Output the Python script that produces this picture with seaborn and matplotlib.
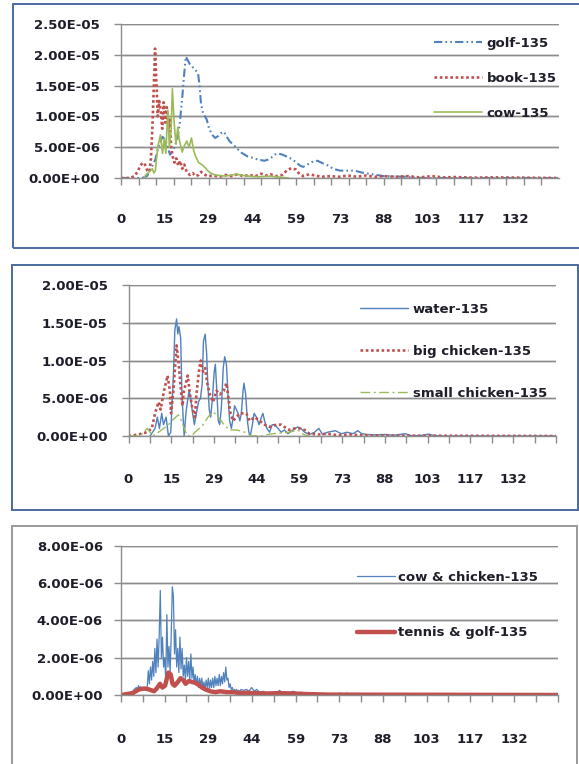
import matplotlib
matplotlib.use("Agg")
import matplotlib.pyplot as plt
import numpy as np
import seaborn as sns
from matplotlib.patches import Rectangle
from matplotlib.lines import Line2D
from matplotlib.ticker import FixedLocator, FuncFormatter, MultipleLocator

# all series values are in units of 1e-6
SCALE = 1e-6
X_MAX = 146.67
CAT_STEP = 0.3667
X_LABEL_POS = [0, 14.67, 29.33, 44, 58.67, 73.33, 88, 102.67, 117.33, 132]
X_LABELS = ["0", "15", "29", "44", "59", "73", "88", "103", "117", "132"]

# ---- panel 1
GOLF_X = [0, 7, 8.7, 10, 11.5, 12.5, 13.9, 15, 16.4, 17.5, 18.8, 19.7, 20.5, 21, 21.7, 22.5,
          23, 24, 25, 25.8, 26.3, 26.8, 27.5, 28.7, 29.5, 30.6, 31.5, 32.5, 33.5, 34.5, 35.3,
          36.3, 37.4, 38.5, 40, 42.4, 44, 45.8, 48, 49.3, 50.3, 51.5, 52.5, 54, 55.9, 57.5,
          58.7, 60, 61, 62.5, 64, 65.8, 67.5, 69.5, 71, 73.3, 76, 78.2, 80.5, 83, 85.5, 88,
          92, 95.5, 98, 102, 146.67]
GOLF_Y = [0, 0, 0.3, 1.5, 3, 5, 6.7, 6, 3.8, 4.5, 6.2, 9, 13, 16, 19.7, 19,
          18.5, 18, 17.5, 17, 15, 12, 10.5, 9.5, 8, 7, 6.5, 6.8, 7.3, 7.5, 6.8,
          6, 5.5, 5, 4.2, 3.5, 3.3, 3, 2.8, 3, 3.3, 3.8, 4, 3.8, 3.4, 3,
          2.5, 2, 1.8, 2.2, 2.6, 2.8, 2.4, 2, 1.5, 1.2, 1.2, 1.2, 0.9, 0.7, 0.5, 0.3,
          0.25, 0.2, 0.05, 0, 0]

BOOK_X = [0, 3, 4.5, 5.5, 6.5, 7.3, 8, 8.8, 9.5, 10, 10.5, 11, 11.4, 11.9, 12.3, 12.8, 13.3,
          13.8, 14.3, 14.8, 15.3, 15.8, 16.3, 16.8, 17.3, 17.9, 18.5, 19.2, 19.8, 20.5, 21.2,
          22, 23, 24, 25, 26, 26.8, 27.8, 29, 31, 33, 35, 37, 39, 41, 43, 45, 47, 48.5, 50,
          52, 54, 55.5, 57, 58.5, 59.5, 61, 63, 65, 67, 70, 73, 76, 79, 82, 85, 88, 92, 96,
          100, 104, 108, 112, 118, 125, 146.67]
BOOK_Y = [0, 0, 0.3, 1, 2, 2.5, 2.2, 1.2, 1, 3, 8, 15, 21, 15, 10, 12.5, 11,
          8, 12.3, 9, 11.5, 8, 9.5, 5, 3.5, 2.5, 3.2, 2, 2.8, 1.5, 2.2,
          1.0, 0.5, 0.8, 0.3, 0.5, 1.0, 0.6, 0.3, 0.4, 0.2, 0.5, 0.3, 0.6, 0.3, 0.5, 0.3, 0.7, 0.4, 0.6,
          0.3, 0.5, 1.2, 1.6, 1.4, 0.8, 0.3, 0.6, 0.4, 0.2, 0.3, 0.2, 0.4, 0.2, 0.4, 0.2, 0.3, 0.2, 0.3,
          0.1, 0.3, 0.1, 0.15, 0.05, 0.1, 0]

COW_X = [7.6, 8.5, 9.5, 10.5, 11, 11.5, 12.3, 13.2, 13.9, 14.5, 15, 15.7, 16.2, 16.8, 17.2, 17.8,
         18.4, 19, 19.6, 20.5, 21, 22, 22.8, 23.6, 24.3, 25, 26, 27, 28, 29, 30, 31.5, 33, 35,
         37, 39, 41, 43, 46, 50, 54, 56]
COW_Y = [0, 0.6, 1.0, 1.5, 0.8, 1.2, 5, 7, 4, 6.5, 4, 11, 5, 8, 14.5, 9,
         5.5, 8.2, 6, 4.2, 5, 6, 5, 6.5, 4.5, 3.5, 2.5, 2.2, 1.8, 1.2, 0.8, 0.5, 0.4, 0.3,
         0.5, 0.6, 0.4, 0.3, 0.2, 0.3, 0.1, 0]

# ---- panel 2
WATER_X = [7.4, 9.1, 9.9, 10.6, 11.4, 12, 12.9, 13.7, 14.5, 15.4, 15.9, 16.5, 16.9, 17.3, 17.9,
           18.3, 18.8, 19.1, 19.7, 20.2, 20.8, 21.3, 22, 22.6, 23.3, 24, 24.7, 25.3, 25.7, 26.3,
           26.8, 27.2, 27.7, 28.2, 28.8, 29.4, 29.8, 30.3, 30.8, 31.3, 31.9, 32.5, 33, 33.6, 34.2,
           34.7, 35.3, 35.9, 36.4, 37, 37.6, 38.2, 38.7, 39.3, 39.6, 40.2, 40.8, 41.3, 41.8, 42.5,
           43.1, 43.9, 44.8, 45.6, 46.1, 46.7, 47.5, 48.4, 49.3, 50.1, 51.3, 52.4, 53.5, 54.7,
           56.4, 58.1, 59.2, 60.4, 62.1, 63.8, 65.3, 66.6, 68.3, 71, 73, 75, 77, 78.7, 80, 82,
           85, 88, 91, 95, 97, 100, 103, 105, 108, 146.67]
WATER_Y = [0, 1, 2.5, 1, 3, 1.5, 2.5, 0, 0.5, 8, 14, 15.5, 13.5, 14.5, 13,
           6, 2, 0, 3, 4.5, 6, 5, 3, 1.5, 3, 4.5, 5, 7, 12.5, 13.5,
           11, 7, 3.5, 2.5, 5, 8.5, 9.5, 6, 2, 1.5, 4, 9, 10.5, 9.5, 5,
           2, 1, 2.5, 4, 3.5, 3, 2, 3, 6, 7, 5.5, 2, 0.5, 0, 1.5,
           3, 2.5, 1.5, 2.5, 3, 2, 1, 0.5, 1.5, 1.5, 1, 0.5, 0.8, 0.3,
           0.8, 1.2, 1, 0.5, 0.2, 0.5, 1, 0.2, 0.5, 0.7, 0.3, 0.5, 0.3, 0.7, 0.3, 0.2,
           0.15, 0.2, 0.1, 0.3, 0.05, 0.05, 0.25, 0.05, 0, 0]

BIG_X = [0, 3.4, 6.3, 8, 9.1, 10.3, 11, 12.2, 13.4, 14.2, 14.6, 15.4, 16.5, 17.1, 17.9, 18.5,
         19, 19.7, 20.3, 21.1, 22, 22.8, 23.3, 24.3, 24.8, 25.6, 26.3, 27, 27.9, 29, 30.2, 31.3,
         32.7, 33.6, 34.3, 35, 35.9, 37, 38.2, 40.4, 41.6, 43.3, 45, 46.7, 48.4, 50.7, 52.4,
         53.5, 55.2, 56.9, 58.7, 60.4, 62.1, 65, 68, 72, 76, 80, 90, 146.67]
BIG_Y = [0, 0.2, 0.5, 1, 3, 4.5, 3.5, 6, 8, 6, 3, 6, 12, 10, 6.5, 4,
         6, 7, 8, 5.5, 3.5, 2.5, 5.5, 9, 10, 8.5, 9, 7, 5.5, 4.5, 6, 5.5,
         6, 7, 5, 3, 2, 2.5, 3, 3, 2, 2.5, 2, 1.5, 1.2, 1.5, 1.5,
         1.2, 0.8, 1, 1, 0.8, 0.3, 0.2, 0.3, 0.1, 0.2, 0.1, 0.05, 0]

SMALL_X = [0, 4, 5.1, 6.5, 7.4, 8.3, 10.3, 12, 13.7, 14.8, 17.1, 18.2, 19.1, 20.2, 21.6, 22.8,
           24.3, 25.6, 27.3, 28.8, 29.6, 30.8, 31.9, 32.7, 34.7, 37, 38.2, 39.9, 41, 42.1, 46.1,
           47.8, 49.5, 55.2, 58.1, 60, 62]
SMALL_Y = [0, 0, 0.5, 1, 0.5, 0, 0.5, 1, 1.5, 2, 2.8, 2, 1, 0, 0, 0.5,
           1, 1.5, 2.5, 3.2, 3, 2.5, 2, 1.5, 0.8, 0.8, 0.7, 0.5, 0.3, 0, 0,
           0.2, 0.3, 0.5, 0.8, 0.2, 0]

# ---- panel 3
# cow & chicken: one value per category from category 0 to 110, then a sparse tail
CC_HEAD_Y = [0, 0, 0, 0, 0.03, 0.03, 0.05, 0.03, 0.05, 0.1, 0.2, 0.15, 0.3, 0.35, 0.4, 0.3,
             0.5, 0.35, 0.45, 0.3, 0.4, 0.25, 0.35, 0.3,
             0.4, 1.3, 0.6, 1.5, 0.8, 1.8, 1.0, 2.5, 1.2, 3.0, 1.5, 3.2, 5.6, 2.0, 3.1, 1.5,
             2.0, 0.8, 4.3, 1.5, 2.6, 1.2, 3.2, 5.8, 5.3, 2.2, 3.5, 1.5, 2.5, 1.2, 3.1, 1.4,
             2.5, 1.0, 1.6, 0.8, 2.0, 1.0, 1.8, 0.8, 2.2, 0.9, 1.5, 0.6, 1.1, 0.5, 1.0, 0.4,
             0.9, 0.5, 0.9, 0.4, 0.7, 0.3, 0.8, 0.4, 0.9, 0.3, 0.8, 0.4, 0.9, 0.4, 1.0, 0.5,
             0.9, 0.5, 1.1, 0.5, 1.0, 0.6, 1.2, 0.7, 1.5, 0.8, 0.9, 0.4, 0.6, 0.3, 0.4, 0.2,
             0.3, 0.2, 0.3, 0.15, 0.25, 0.2, 0.3]
CC_TAIL_X = [41, 42.2, 43, 43.9, 44.8, 45.6, 46.5, 47.8, 49, 50, 51, 52.2, 53.3, 54, 55, 56.5,
             57.8, 59.4, 60.5, 62, 64, 66, 68, 70, 72, 73.5, 75, 76, 77, 80, 146.67]
CC_TAIL_Y = [0.25, 0.3, 0.2, 0.4, 0.2, 0.3, 0.15, 0.2, 0.1, 0.1, 0.15, 0.1, 0.25, 0.1, 0.15, 0.1,
             0.2, 0.1, 0.15, 0.05, 0.1, 0.05, 0.05, 0.03, 0.05, 0.1, 0.05, 0.1, 0.02, 0, 0]

TG_X = [0, 3.9, 6.1, 7.8, 9.4, 11.1, 12, 13.1, 13.9, 14.8, 15.9, 16.7, 17.3, 18, 19.1, 20,
        20.9, 21.7, 22.8, 23.9, 25, 26.1, 27.2, 28.3, 30, 31.7, 33.3, 35.6, 37.8, 40, 42.2,
        44.4, 48.9, 53.3, 57.8, 62, 70, 146.67]
TG_Y = [0, 0.1, 0.3, 0.35, 0.3, 0.2, 0.35, 0.6, 0.4, 0.5, 1.2, 1.1, 0.6, 0.5, 0.7, 0.9,
        0.8, 0.6, 0.75, 0.7, 0.65, 0.55, 0.4, 0.3, 0.2, 0.15, 0.2, 0.15, 0.15, 0.1, 0.12,
        0.1, 0.08, 0.1, 0.08, 0.05, 0.02, 0]

BLUE, RED, GREEN = "#4F81BD", "#C0504D", "#9BBB59"
GRID = "#8c8c8c"
TEXT = "#1e1e2a"
W, H = 579, 764

sns.set_theme(style="white")
plt.rcParams["font.family"] = ["DejaVu Sans"]
plt.rcParams["font.weight"] = "bold"
plt.rcParams["font.size"] = 9.5
plt.rcParams["axes.grid"] = True
plt.rcParams["axes.grid.axis"] = "y"
plt.rcParams["grid.color"] = GRID
plt.rcParams["grid.linewidth"] = 1.0

fig = plt.figure(figsize=(W / 100, H / 100), dpi=100)


def px_axes(left, top, right, bottom):
    return fig.add_axes([left / W, 1 - bottom / H, (right - left) / W, (bottom - top) / H])


def box(left, top, right, bottom, color):
    fig.add_artist(Rectangle((left / W, 1 - bottom / H), (right - left) / W, (bottom - top) / H,
                             transform=fig.transFigure, fill=False, ec=color, lw=1.4))


def style_axis(ax, ymax, ystep, tick_step, xpad, ypad):
    yticks = np.arange(0, ymax + ystep / 2, ystep)
    ax.set_xlim(0, X_MAX)
    ax.set_ylim(0, ymax)
    ax.set_yticks(yticks)
    ax.yaxis.set_major_formatter(FuncFormatter(lambda v, p: f"{v:.2E}"))
    ax.xaxis.set_major_locator(FixedLocator(X_LABEL_POS))
    ax.set_xticklabels(X_LABELS)
    ax.xaxis.set_minor_locator(MultipleLocator(tick_step))
    ax.xaxis.remove_overlapping_locs = False
    ax.tick_params(axis="x", which="major", length=0, pad=xpad, labelcolor=TEXT, labelsize=9.5)
    ax.tick_params(axis="x", which="minor", bottom=True, length=5, width=1.0, color=GRID,
                   direction="out")
    ax.tick_params(axis="y", left=True, length=5, width=1.0, color=GRID, direction="out",
                   pad=ypad, labelcolor=TEXT, labelsize=9.5)
    for s in ["top", "right"]:
        ax.spines[s].set_visible(False)
    for s in ["left", "bottom"]:
        ax.spines[s].set_color(GRID)
        ax.spines[s].set_linewidth(1.0)
    # horizontal gridlines drawn in data coordinates, under the series
    for v in yticks[1:]:
        ax.plot([0, X_MAX], [v, v], color=GRID, lw=1.0, zorder=1.9, solid_capstyle="butt")
    ax.set_xlim(0, X_MAX)
    ax.set_xlabel("")
    ax.set_ylabel("")


def draw(ax, xs, ys, **kw):
    sns.lineplot(x=np.asarray(xs, float), y=np.asarray(ys, float) * SCALE, ax=ax,
                 estimator=None, sort=False, legend=False, zorder=2, **kw)


def add_legend(ax, items, x, y, spacing, hlen, tpad):
    handles = [Line2D([], [], **kw) for _, kw in items]
    ax.legend(handles, [t for t, _ in items], loc="upper left", bbox_to_anchor=(x / W, 1 - y / H),
              bbox_transform=fig.transFigure, frameon=False, borderpad=0, borderaxespad=0,
              labelspacing=spacing, handlelength=hlen, handletextpad=tpad,
              prop={"weight": "bold", "size": 9.5}, labelcolor=TEXT)


golf_kw = dict(color=BLUE, lw=1.5, linestyle=(0, (4, 1.5, 0.8, 1.5, 0.8, 1.5)))
book_kw = dict(color=RED, lw=1.9, linestyle=(0, (1, 1)))
cow_kw = dict(color=GREEN, lw=1.2, linestyle="-")
water_kw = dict(color=BLUE, lw=1.0, linestyle="-")
big_kw = dict(color=RED, lw=1.9, linestyle=(0, (1, 1)))
small_kw = dict(color=GREEN, lw=1.0, linestyle=(0, (7, 2.5, 1.5, 2.5)))
cc_kw = dict(color=BLUE, lw=0.9, linestyle="-")
tg_kw = dict(color=RED, lw=3.2, linestyle="-")

# panel 1
ax1 = px_axes(121, 24, 559, 178)
draw(ax1, GOLF_X, GOLF_Y, **golf_kw)
draw(ax1, BOOK_X, BOOK_Y, **book_kw)
draw(ax1, COW_X, COW_Y, **cow_kw)
style_axis(ax1, 2.5e-5, 5e-6, 5.867, 25, 10)
add_legend(ax1, [("golf-135", golf_kw), ("book-135", book_kw), ("cow-135", cow_kw)],
           434, 37, 1.65, 3.6, 0.4)

# panel 2
ax2 = px_axes(128.5, 285, 556, 436)
draw(ax2, WATER_X, WATER_Y, **water_kw)
draw(ax2, BIG_X, BIG_Y, **big_kw)
draw(ax2, SMALL_X, SMALL_Y, **small_kw)
style_axis(ax2, 2.0e-5, 5e-6, 7.333, 26.5, 10)
add_legend(ax2, [("water-135", water_kw), ("big chicken-135", big_kw),
                 ("small chicken-135", small_kw)], 360, 303, 2.2, 3.6, 0.4)

# panel 3
ax3 = px_axes(121, 545.7, 557.6, 695)
cc_x = np.concatenate([np.arange(len(CC_HEAD_Y)) * CAT_STEP, CC_TAIL_X])
cc_y = np.concatenate([CC_HEAD_Y, CC_TAIL_Y])
draw(ax3, cc_x, cc_y, **cc_kw)
draw(ax3, TG_X, TG_Y, **tg_kw)
style_axis(ax3, 8e-6, 2e-6, 7.333, 27.5, 8)
add_legend(ax3, [("cow & chicken-135", cc_kw), ("tennis & golf-135", tg_kw)],
           357, 571, 3.22, 2.85, 0.25)

# chart borders
box(13, 4, 581, 248, "#4a6b9d")
box(12, 265, 578, 510, "#4a6b9d")
box(12, 526, 577, 790, "#9a9a9a")

fig.savefig("out.png", dpi=100)
